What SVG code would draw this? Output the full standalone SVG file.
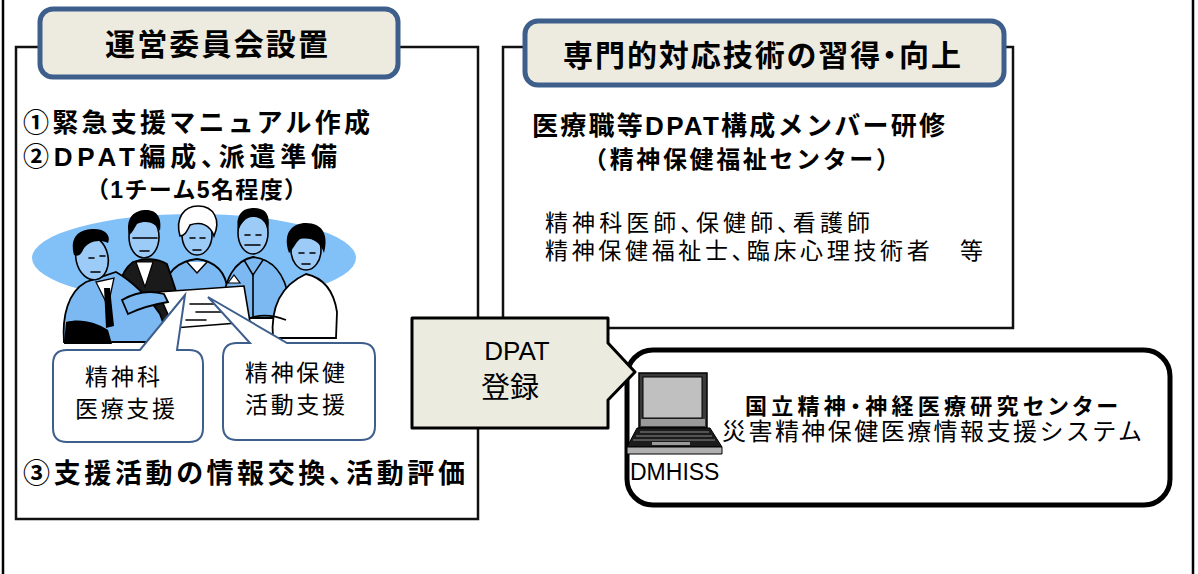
<svg xmlns="http://www.w3.org/2000/svg" width="1198" height="574" viewBox="0 0 1198 574">
  <style>
    .frame { fill: none; stroke: #000; stroke-width: 2.5; }
    .box { fill: #fff; stroke: #111; stroke-width: 2.5; }
    .hdr { fill: #edebe0; stroke: #3e5f8c; stroke-width: 5; }
    .hdr-t { font-family: "Noto Sans CJK JP", sans-serif; font-weight: bold; font-size: 30px; fill: #000; }
    .b { font-family: "Liberation Sans", "Noto Sans CJK JP", sans-serif; font-weight: bold; fill: #000; }
    .n { font-family: "Liberation Sans", "Noto Sans CJK JP", sans-serif; font-weight: normal; fill: #000; }
    .p { font-feature-settings: "palt"; }
    .callout { fill: #fff; stroke: #3e5f8c; stroke-width: 2; }
    .skin { fill: #9ccbf8; stroke: #000; stroke-width: 1.6; }
    .shirt { fill: #7cb9f2; stroke: #000; stroke-width: 1.8; }
    .ink { fill: #000; }
    .line { fill: none; stroke: #000; stroke-width: 1.6; stroke-linecap: round; }
  </style>

  <!-- outer frame sides -->
  <g id="frame">
    <line class="frame" x1="3" y1="0" x2="3" y2="574"/>
    <line class="frame" x1="1193" y1="0" x2="1193" y2="574"/>
  </g>

  <!-- committee panel -->
  <g id="committee">
    <rect class="box" x="16" y="47" width="462" height="472"/>
    <rect class="hdr" x="40" y="9" width="358" height="68" rx="13"/>
    <text class="hdr-t" x="105" y="55" textLength="223" lengthAdjust="spacing">運営委員会設置</text>
    <text class="b" font-size="26" x="23" y="132" textLength="347" lengthAdjust="spacing">①緊急支援マニュアル作成</text>
    <text class="b p" font-size="26" x="23" y="166" textLength="314" lengthAdjust="spacing">②DPAT編成、派遣準備</text>
    <text class="b" font-size="23" x="86" y="198" textLength="221" lengthAdjust="spacing">（1チーム5名程度）</text>
    <text class="b p" font-size="27" x="23" y="483" textLength="442" lengthAdjust="spacing">③支援活動の情報交換、活動評価</text>
  </g>

  <!-- meeting illustration -->
  <g id="meeting">
    <ellipse cx="194" cy="258" rx="162" ry="44" fill="#82c0f8"/>

    <!-- woman, centre back -->
    <path class="shirt" d="M164,292 C166,270 180,261 197,259 C214,261 226,270 228,292 Z"/>
    <path d="M187,262 L197,273 L207,262" fill="#fff" stroke="#000" stroke-width="1.5"/>
    <ellipse class="skin" cx="197" cy="235" rx="15" ry="20"/>
    <path d="M180,236 C175,218 184,206 198,206 C214,206 221,220 214,236 C210,225 201,221 190,225 C187,231 185,236 180,236 Z" fill="#fff" stroke="#000" stroke-width="1.6"/>
    <path class="line" d="M190,238 h5 M200,238 h5 M193,250 h8"/>

    <!-- moustached man, right back -->
    <path class="shirt" d="M222,318 C222,276 237,260 253,257 C271,259 285,272 289,300 L287,318 Z"/>
    <path d="M244,260 L253,275 L263,260" fill="none" stroke="#000" stroke-width="1.5"/>
    <path class="line" d="M253,275 V316"/>
    <ellipse class="skin" cx="253" cy="233" rx="15" ry="21"/>
    <path class="ink" d="M238,231 C235,213 244,208 254,208 C266,208 271,215 268,231 C266,222 261,217 253,217 C245,217 241,224 238,231 Z"/>
    <path class="line" d="M245,235 h5 M256,235 h5 M245,245 h15"/>

    <!-- man with glasses -->
    <path d="M114,332 C114,296 119,272 133,262 C144,258 157,258 167,264 L179,300 L171,326 Z" fill="#1a1a1a" stroke="#000" stroke-width="1.8"/>
    <path d="M136,262 L145,287 L153,262 Z" fill="#fff" stroke="#000" stroke-width="1.2"/>
    <path d="M122,300 C128,296 140,296 148,300" fill="none" stroke="#7cb9f2" stroke-width="2"/>
    <ellipse class="skin" cx="144" cy="237" rx="15" ry="21"/>
    <path class="ink" d="M129,235 C125,217 135,210 146,210 C158,210 162,219 160,231 C155,222 146,220 137,224 C134,229 132,233 129,235 Z"/>
    <path class="line" d="M133,238 h9 M148,238 h9 M142,238 h6 M140,251 h9"/>

    <!-- papers on the table -->
    <path d="M158,292 L244,286 L250,322 L174,328 Z" fill="#fff" stroke="#000" stroke-width="1.6"/>
    <path class="line" d="M190,304 h26 M196,312 h30 M186,320 h20"/>
    <path d="M228,283 l6,-8 l6,8 Z" fill="#fff" stroke="#000" stroke-width="1.2"/>

    <!-- woman, right front -->
    <path d="M273,338 C270,304 284,284 306,274 C324,278 334,292 337,312 L336,338 Z" fill="#fff" stroke="#000" stroke-width="1.8"/>
    <path d="M250,318 C262,314 276,316 286,320" fill="none" stroke="#000" stroke-width="1.6"/>
    <ellipse class="skin" cx="306" cy="250" rx="15" ry="20"/>
    <path class="ink" d="M289,253 C282,232 293,223 306,223 C322,223 329,234 324,253 C320,241 311,237 300,239 C295,243 293,250 289,253 Z"/>
    <path class="line" d="M299,253 h5 M310,253 h5 M302,264 h8"/>

    <!-- man leaning in, left front -->
    <path class="shirt" d="M64,342 C62,316 68,292 86,282 L116,272 C130,280 148,296 160,314 L170,342 Z"/>
    <path d="M96,282 L108,306 L114,278 Z" fill="#fff" stroke="#000" stroke-width="1.3"/>
    <path class="ink" d="M104,288 L110,288 L114,326 L106,328 Z"/>
    <path class="ink" d="M66,322 C80,318 96,322 108,330 L112,344 L64,344 Z"/>
    <path class="shirt" d="M122,300 C136,292 150,290 164,294 L168,302 C156,304 140,308 128,314 Z"/>
    <ellipse class="skin" cx="92" cy="258" rx="16" ry="22" transform="rotate(-12 92 258)"/>
    <path class="ink" d="M74,255 C69,236 80,229 94,229 C106,229 111,236 108,243 C99,239 88,241 83,250 C81,254 79,257 74,255 Z"/>
    <path class="line" d="M89,258 h5 M100,256 h5 M91,272 h9"/>
  </g>

  <!-- speech callouts -->
  <g id="callout-psychiatry">
    <path class="callout" d="M67,350 H140 L185,295 L177,350 H189 Q203,350 203,364 V428 Q203,442 189,442 H67 Q53,442 53,428 V364 Q53,350 67,350 Z"/>
    <text class="n" font-size="23" x="85" y="385" textLength="75" lengthAdjust="spacing">精神科</text>
    <text class="n" font-size="23" x="75" y="417" textLength="100" lengthAdjust="spacing">医療支援</text>
  </g>
  <g id="callout-mental-health">
    <path class="callout" d="M237,343 H250 L208,297 L287,343 H361 Q375,343 375,357 V426 Q375,440 361,440 H237 Q223,440 223,426 V357 Q223,343 237,343 Z"/>
    <text class="n" font-size="23" x="245" y="381" textLength="100" lengthAdjust="spacing">精神保健</text>
    <text class="n" font-size="23" x="245" y="413" textLength="100" lengthAdjust="spacing">活動支援</text>
  </g>

  <!-- training panel -->
  <g id="training">
    <rect class="box" x="503" y="47" width="510" height="281"/>
    <rect class="hdr" x="525" y="21" width="479" height="64" rx="13"/>
    <text class="hdr-t p" x="563" y="66" textLength="398" lengthAdjust="spacing">専門的対応技術の習得・向上</text>
    <text class="b" font-size="26" x="532" y="135" textLength="413" lengthAdjust="spacing">医療職等DPAT構成メンバー研修</text>
    <text class="b" font-size="24" x="583" y="168" textLength="317" lengthAdjust="spacing">（精神保健福祉センター）</text>
    <text class="n p" font-size="23" x="545" y="231" textLength="325" lengthAdjust="spacing">精神科医師、保健師、看護師</text>
    <text class="n p" font-size="23" x="545" y="259" textLength="438" lengthAdjust="spacing">精神保健福祉士、臨床心理技術者　等</text>
  </g>

  <!-- national centre / DMHISS -->
  <g id="dmhiss">
    <rect x="627" y="350" width="543" height="155" rx="26" fill="#fff" stroke="#000" stroke-width="5"/>
    <!-- laptop -->
    <rect x="639" y="373" width="68" height="55" fill="#3a3a3a" stroke="#000" stroke-width="1.5"/>
    <rect x="643" y="377" width="59" height="41" fill="#c0c0c0" stroke="#000" stroke-width="1"/>
    <rect x="641" y="419" width="64" height="7" fill="#9a9a9a"/>
    <polygon points="637,428 710,428 722,447 627,447" fill="#1c1c1c" stroke="#000" stroke-width="1"/>
    <path d="M640,432 H709 M636,436 H712 M633,440 H715" stroke="#8a8a8a" stroke-width="1"/>
    <rect x="652" y="442" width="38" height="3" fill="#9a9a9a"/>
    <polygon points="627,447 722,447 722,454 627,454" fill="#b0b0b0" stroke="#000" stroke-width="1"/>
    <text class="n" font-size="23" x="630" y="480">DMHISS</text>
    <text class="b p" font-size="22" x="745" y="414" textLength="373" lengthAdjust="spacing">国立精神・神経医療研究センター</text>
    <text class="n" font-size="24" x="722" y="440" textLength="420" lengthAdjust="spacing">災害精神保健医療情報支援システム</text>
  </g>

  <!-- registration arrow -->
  <g id="registration">
    <path d="M412,318 H608 V343 L635,372 L608,400 V428 H412 Z" fill="#ecebe0" stroke="#000" stroke-width="3" stroke-linejoin="round"/>
    <text class="n" font-size="26" x="517" y="360" text-anchor="middle">DPAT</text>
    <text class="n" font-size="29" x="510" y="398" text-anchor="middle">登録</text>
  </g>
</svg>
